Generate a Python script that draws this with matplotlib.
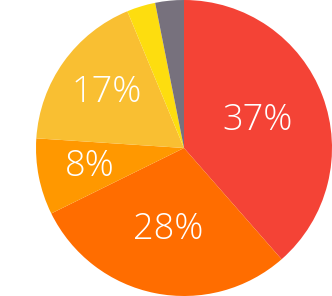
import matplotlib
matplotlib.use("Agg")
from matplotlib import pyplot as plt
import numpy as np

values = [37, 28, 8, 17, 3, 3]
labels = ["37%", "28%", "8%", "17%", "", ""]
colors = ["#F44336", "#FF6D00", "#FF9800", "#F9BF32", "#FDDD0F", "#77717D"]
label_r = [0.53, 0.56, 0.65, 0.64, 0.6, 0.6]

fig = plt.figure(figsize=(3.32, 2.96), dpi=100)
ax = fig.add_axes([36/332, 0, 296/332, 1])
wedges, texts = ax.pie(values, colors=colors, startangle=90, counterclock=False,
                       radius=1, labels=labels, labeldistance=0.6,
                       wedgeprops=dict(linewidth=0),
                       textprops=dict(color="white", fontsize=26, family="Open Sans",
                                      fontweight="light", ha="center", va="center"))
for t, r in zip(texts, label_r):
    x, y = t.get_position()
    k = r / 0.6
    t.set_position((x*k, y*k))
    t.set_ha("center")
    t.set_va("center")
ax.set_xlim(-1, 1)
ax.set_ylim(-1, 1)
ax.set_aspect("equal")
ax.axis("off")
fig.savefig("out.png", dpi=100)
